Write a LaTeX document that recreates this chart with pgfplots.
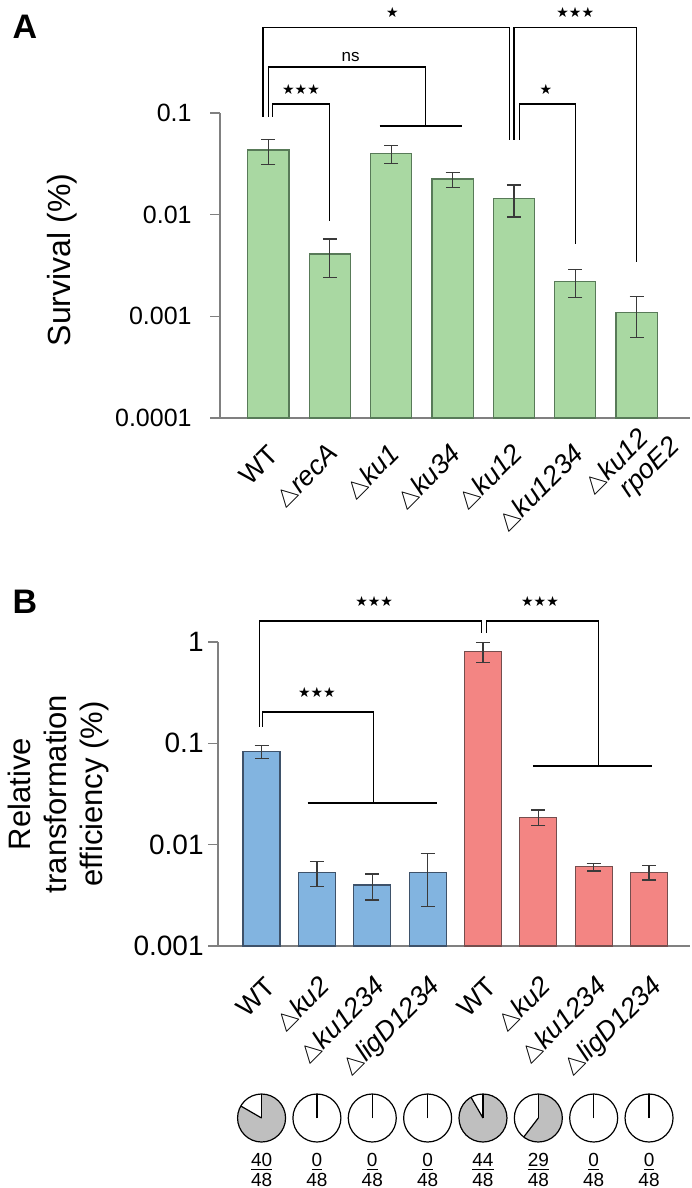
\documentclass[border=0pt]{standalone}
\usepackage{fontspec}
\setmainfont{Liberation Sans}
\newfontfamily\symfont{DejaVu Sans}
\usepackage{graphicx}
\usepackage{pgfplots}
\pgfplotsset{compat=1.18}

\definecolor{grn}{HTML}{A9D8A2}
\definecolor{grnedge}{HTML}{587A58}
\definecolor{blu}{HTML}{82B4E0}
\definecolor{bluedge}{HTML}{3E526A}
\definecolor{rd}{HTML}{F38583}
\definecolor{rdedge}{HTML}{744E4E}
\definecolor{axgray}{HTML}{808080}
\definecolor{piegray}{HTML}{BFBFBF}
\definecolor{errc}{HTML}{3A3A3A}

\newcommand{\gene}[1]{\scalebox{0.82}{$\triangle$}\textit{#1}}

\pgfplotsset{
  every axis/.append style={
    scale only axis, clip=false,
    yminorticks=false,
    axis x line*=bottom, axis y line*=left,
    axis line style={-, draw=axgray, line width=0.75pt},
    tick align=outside, major tick length=5pt,
    y tick style={draw=axgray, line width=0.75pt},
    x tick style={draw=none},
    yticklabel style={anchor=east, inner sep=0pt},
    xticklabel style={font=\fontsize{13.5}{15}\selectfont, inner sep=0pt,
      xshift=2.5pt, yshift=-11pt, rotate=45, anchor=east},
  },
  mybars/.style={ybar, bar width=#1, line width=0.6pt,
    error bars/y dir=both, error bars/y explicit,
    error bars/error bar style={line width=0.6pt, draw=errc},
    error bars/error mark options={rotate=90, mark size=3.5pt, line width=0.6pt, draw=errc}},
}

\begin{document}
\begin{tikzpicture}
\path (0,0) rectangle (345.5pt,-594pt);

% ---------------- panel A ----------------
\node[font=\bfseries\fontsize{17}{17}\selectfont] at (12.5pt,-13.5pt) {A};
\node[rotate=90, font=\fontsize{16}{19}\selectfont] at (31pt,-130pt) {Survival (\%)};
\begin{axis}[
  at={(110pt,-209pt)}, anchor=south west,
  width=235pt, height=152.5pt,
  ymode=log, log origin=infty,
  xmin=-0.79, xmax=6.87,
  ymin=1e-4, ymax=0.1,
  ytick={1e-4,1e-3,1e-2,1e-1},
  yticklabels={0.0001,0.001,0.01,0.1},
  yticklabel style={font=\fontsize{12.5}{15}\selectfont, xshift=-9pt},
  xtick={0,...,6},
  xticklabels={WT,\gene{recA},\gene{ku1},\gene{ku34},\gene{ku12},\gene{ku1234},{}},
]
\addplot[mybars=20.6pt, fill=grn, draw=grnedge] coordinates {
  (0,0.0433)   += (0,0.0118)  -= (0,0.0120)
  (1,0.0041)   += (0,0.00167) -= (0,0.00168)
  (2,0.0401)   += (0,0.0076)  -= (0,0.0081)
  (3,0.0224)   += (0,0.0035)  -= (0,0.0038)
  (4,0.01445)  += (0,0.00515) -= (0,0.00495)
  (5,0.00221)  += (0,0.00067) -= (0,0.00067)
  (6,0.00109)  += (0,0.00048) -= (0,0.000476)
};
% significance brackets
\draw[line width=0.6pt] (axis cs:-0.09,0.0914) |- (axis cs:3.93,0.70) -- (axis cs:3.93,0.0543);
\draw[line width=0.6pt] (axis cs:4.0,0.0543) |- (axis cs:6.0,0.70) -- (axis cs:6.0,0.00343);
\draw[line width=0.6pt] (axis cs:0,0.0914) |- (axis cs:2.56,0.283) -- (axis cs:2.56,0.0745);
\draw[line width=0.6pt] (axis cs:1.81,0.0745) -- (axis cs:3.15,0.0745);
\draw[line width=0.6pt] (axis cs:0.06,0.0914) |- (axis cs:1.0,0.1226) -- (axis cs:1.0,0.00867);
\draw[line width=0.6pt] (axis cs:4.085,0.0543) |- (axis cs:5.0,0.1226) -- (axis cs:5.0,0.00515);
\node[font=\symfont\fontsize{7}{7}\selectfont] at (axis cs:2.02,0.984) {★};
\node[font=\symfont\fontsize{7}{7}\selectfont] at (axis cs:5.0,0.984) {★★★};
\node[font=\fontsize{8.5}{9}\selectfont] at (axis cs:1.34,0.356) {ns};
\node[font=\symfont\fontsize{7}{7}\selectfont] at (axis cs:0.53,0.172) {★★★};
\node[font=\symfont\fontsize{7}{7}\selectfont] at (axis cs:4.52,0.172) {★};
\node[rotate=45, anchor=east, align=left, inner sep=0pt,
  font=\fontsize{13.5}{13.5}\selectfont]
  at ([xshift=15pt, yshift=-7.5pt]axis cs:6,0.0001)
  {\gene{ku12}\\\hspace*{12pt}\textit{rpoE2}};
\end{axis}

% ---------------- panel B ----------------
\node[font=\bfseries\fontsize{17}{17}\selectfont] at (12.5pt,-301pt) {B};
\node[rotate=90, align=center, font=\fontsize{15.5}{18}\selectfont]
  at (29pt,-397pt) {Relative\\transformation\\efficiency (\%)};
\begin{axis}[
  at={(109pt,-473pt)}, anchor=south west,
  width=236pt, height=152pt,
  ymode=log, log origin=infty,
  xmin=-0.787, xmax=7.74,
  ymin=1e-3, ymax=1,
  ytick={1e-3,1e-2,1e-1,1},
  yticklabels={0.001,0.01,0.1,1},
  yticklabel style={font=\fontsize{14}{16}\selectfont, xshift=-2pt},
  xtick={0,...,7},
  xticklabels={WT,\gene{ku2},\gene{ku1234},\gene{ligD1234},WT,\gene{ku2},\gene{ku1234},\gene{ligD1234}},
  xticklabel style={yshift=-3pt},
]
\addplot[mybars=18.5pt, fill=blu, draw=bluedge] coordinates {
  (0,0.0827)  += (0,0.0120)  -= (0,0.0115)
  (1,0.00534) += (0,0.00145) -= (0,0.00149)
  (2,0.0040)  += (0,0.00113) -= (0,0.00116)
  (3,0.00534) += (0,0.00288) -= (0,0.0029)
};
\addplot[mybars=18.5pt, fill=rd, draw=rdedge] coordinates {
  (4,0.802)   += (0,0.182)   -= (0,0.177)
  (5,0.01862) += (0,0.0034)  -= (0,0.0032)
  (6,0.00606) += (0,0.0005)  -= (0,0.00056)
  (7,0.00534) += (0,0.00086) -= (0,0.00086)
};
\draw[line width=0.6pt] (axis cs:-0.04,0.145) |- (axis cs:3.98,1.61) -- (axis cs:3.98,1.23);
\draw[line width=0.6pt] (axis cs:4.06,1.23) |- (axis cs:6.09,1.61) -- (axis cs:6.09,0.0598);
\draw[line width=0.6pt] (axis cs:4.9,0.0598) -- (axis cs:7.05,0.0598);
\draw[line width=0.6pt] (axis cs:0.02,0.145) |- (axis cs:2.02,0.204) -- (axis cs:2.02,0.0258);
\draw[line width=0.6pt] (axis cs:0.83,0.0258) -- (axis cs:3.17,0.0258);
\node[font=\symfont\fontsize{7}{7}\selectfont] at (axis cs:2.035,2.54) {★★★};
\node[font=\symfont\fontsize{7}{7}\selectfont] at (axis cs:5.03,2.54) {★★★};
\node[font=\symfont\fontsize{7}{7}\selectfont] at (axis cs:1.0,0.321) {★★★};
\pgfplotsinvokeforeach{0,...,7}{\coordinate (pb#1) at (axis cs:#1,0.001);}
\end{axis}

% colonies transformed out of 48 tested
\foreach \i/\n in {0/40,1/0,2/0,3/0,4/44,5/29,6/0,7/0} {
  \coordinate (c) at ([yshift=-86pt]pb\i);
  \fill[piegray] (c) -- ++(0,12pt) arc[start angle=90, end angle={90-7.5*\n}, radius=12pt] -- cycle;
  \draw[line width=0.6pt] (c) circle[radius=12pt];
  \draw[line width=0.6pt] (c) -- ++(0,12pt);
  \draw[line width=0.6pt] (c) -- ++({90-7.5*\n}:12pt);
  \node[anchor=north, align=center, inner sep=0pt, font=\fontsize{9.5}{10}\selectfont]
    at ([yshift=-103.5pt]pb\i) {\underline{\n}\\48};
}
\end{tikzpicture}
\end{document}
